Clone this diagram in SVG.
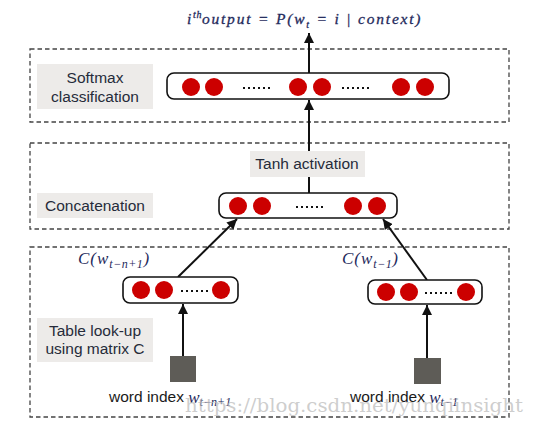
<svg xmlns="http://www.w3.org/2000/svg" width="536" height="425" viewBox="0 0 536 425">
<style>
.dash{fill:none;stroke:#444;stroke-width:1.3;stroke-dasharray:4.5 3}
.lab{fill:#edebe9}
.lt{font-family:"Liberation Sans",Arial,sans-serif;font-size:15.5px;fill:#262b3a;text-anchor:middle}
.vec{fill:#fff;stroke:#111;stroke-width:1.6}
.n{fill:#cc0000}
.dot{fill:none;stroke:#111;stroke-width:2;stroke-dasharray:2 3}
.con{stroke:#111;stroke-width:2;fill:none}
.m{font-family:"Liberation Serif","Times New Roman",serif;font-style:italic;fill:#1f2a5c}
.sq{fill:#5e5c57}
.wi{font-family:"Liberation Sans",Arial,sans-serif;font-size:15.5px;fill:#1a1a1a}
</style>
<defs>
<marker id="ah" viewBox="0 0 10 10" refX="10" refY="5" markerWidth="5" markerHeight="5" orient="auto" markerUnits="strokeWidth">
<path d="M0,0 L10,5 L0,10 z" fill="#111"/>
</marker>
</defs>
<rect width="536" height="425" fill="#fff"/>

<g id="title">
<text class="m" font-size="15.5" x="187" y="24" letter-spacing="1.8" stroke="#1f2a5c" stroke-width="0.3">i<tspan font-size="10" dy="-6" letter-spacing="0.5">th</tspan><tspan dy="6">output = P(w</tspan><tspan font-size="10" dy="4">t</tspan><tspan dy="-4"> = i | context)</tspan></text>
</g>

<g id="layer-softmax">
<rect class="dash" x="30" y="49" width="479" height="73"/>
<rect class="lab" x="37" y="64" width="116" height="45"/>
<text class="lt" x="95" y="83">Softmax</text>
<text class="lt" x="95" y="102">classification</text>
</g>
<g id="layer-concat">
<rect class="dash" x="30" y="143" width="479" height="86"/>
<rect class="lab" x="37" y="193" width="116" height="25"/>
<text class="lt" x="95" y="211">Concatenation</text>
</g>
<g id="layer-lookup">
<rect class="dash" x="30" y="247" width="479" height="170"/>
<rect class="lab" x="37" y="318" width="116" height="44"/>
<text class="lt" x="95" y="336">Table look-up</text>
<text class="lt" x="95" y="354">using matrix C</text>
</g>

<g id="connectors">
<line class="con" x1="309" y1="73" x2="309" y2="33" marker-end="url(#ah)"/>
<line class="con" x1="309" y1="151" x2="309" y2="100" marker-end="url(#ah)"/>
<line class="con" x1="309" y1="193" x2="309" y2="177"/>
<line class="con" x1="178" y1="277" x2="237" y2="219" marker-end="url(#ah)"/>
<line class="con" x1="427" y1="280" x2="383" y2="219" marker-end="url(#ah)"/>
<line class="con" x1="183" y1="356" x2="183" y2="304" marker-end="url(#ah)"/>
<line class="con" x1="427" y1="358" x2="427" y2="305" marker-end="url(#ah)"/>
</g>

<g id="softmax-vector">
<rect class="vec" x="167" y="73" width="282" height="26" rx="7"/>
<circle class="n" cx="191" cy="87" r="9"/>
<circle class="n" cx="214" cy="87" r="9"/>
<line class="dot" x1="243" y1="88" x2="273" y2="88"/>
<circle class="n" cx="298" cy="87" r="9"/>
<circle class="n" cx="322" cy="87" r="9"/>
<line class="dot" x1="342" y1="88" x2="371" y2="88"/>
<circle class="n" cx="401" cy="87" r="9"/>
<circle class="n" cx="425" cy="87" r="9"/>
</g>

<g id="tanh">
<rect class="lab" x="250" y="151" width="115" height="26"/>
<text class="lt" x="307" y="169">Tanh activation</text>
</g>

<g id="concat-vector">
<rect class="vec" x="219" y="193" width="178" height="25" rx="7"/>
<circle class="n" cx="238" cy="206" r="9"/>
<circle class="n" cx="262" cy="206" r="9"/>
<line class="dot" x1="296" y1="207" x2="324" y2="207"/>
<circle class="n" cx="353" cy="206" r="9"/>
<circle class="n" cx="377" cy="206" r="9"/>
</g>

<g id="embed-left">
<text class="m" font-size="17" x="78" y="264" letter-spacing="1">C(w<tspan font-size="12" dy="4" letter-spacing="0.5">t−n+1</tspan><tspan dy="-4">)</tspan></text>
<rect class="vec" x="123" y="277" width="115" height="26" rx="7"/>
<circle class="n" cx="141" cy="290" r="9"/>
<circle class="n" cx="164" cy="290" r="9"/>
<line class="dot" x1="181" y1="291" x2="209" y2="291"/>
<circle class="n" cx="221" cy="290" r="9"/>
</g>

<g id="embed-right">
<text class="m" font-size="17" x="342" y="264" letter-spacing="1">C(w<tspan font-size="12" dy="4" letter-spacing="0.5">t−1</tspan><tspan dy="-4">)</tspan></text>
<rect class="vec" x="368" y="280" width="114" height="24" rx="7"/>
<circle class="n" cx="386" cy="292" r="9"/>
<circle class="n" cx="409" cy="292" r="9"/>
<line class="dot" x1="425" y1="293" x2="454" y2="293"/>
<circle class="n" cx="466" cy="292" r="9"/>
</g>

<g id="word-left">
<rect class="sq" x="170" y="356" width="26" height="26"/>
<text class="wi" x="109" y="402">word index <tspan class="m" font-size="17" dy="1">w</tspan><tspan class="m" font-size="12" dy="3">t−n+1</tspan></text>
</g>
<g id="word-right">
<rect class="sq" x="414" y="358" width="27" height="26"/>
<text class="wi" x="350" y="402">word index <tspan class="m" font-size="17" dy="1">w</tspan><tspan class="m" font-size="12" dy="3">t−1</tspan></text>
</g>

<text x="185" y="412" font-family="DejaVu Serif,serif" font-size="18" fill="#b8b8b8" fill-opacity="0.7" textLength="338" lengthAdjust="spacingAndGlyphs">https://blog.csdn.net/yunqiinsight</text>
</svg>
